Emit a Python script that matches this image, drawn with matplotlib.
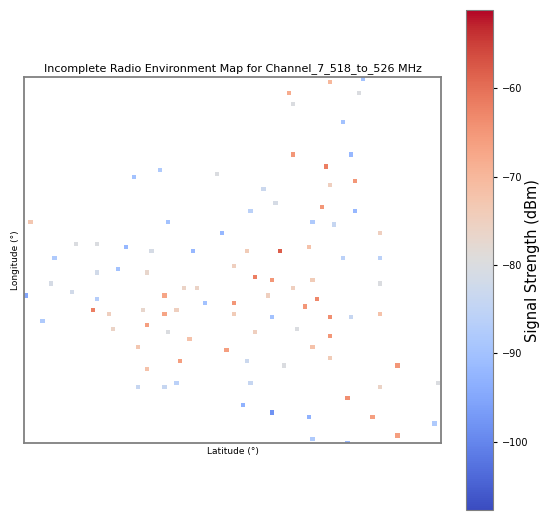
import matplotlib
matplotlib.use("Agg")
import matplotlib.pyplot as plt
import numpy as np

# Grid position along latitude (x) and longitude (y), 0..80 cells, and measured signal (dBm)
lat = [1.2, 21.1, 26.1, 37.0, 27.6, 38.0, 10.0, 14.0, 19.6, 24.4, 32.4, 5.9,
       58.7, 65.0, 50.8, 64.3, 51.6, 61.2, 51.6, 62.7, 57.9, 63.5, 58.7, 45.9,
       48.3, 57.2, 43.5, 63.5, 55.4, 59.5, 68.3, 42.8, 49.1, 54.7, 61.2, 68.3,
       14.0, 18.0, 23.6, 5.2, 9.2, 0.4, 14.0, 26.9, 30.7, 33.2, 34.7, 13.2,
       16.3, 22.8, 26.9, 29.2, 3.6, 17.1, 23.6, 27.6, 31.7, 38.8, 21.9, 29.9,
       23.6, 21.9, 26.9, 29.2, 40.3, 44.3, 47.6, 51.6, 55.4, 68.3, 46.8, 40.3,
       56.2, 53.9, 40.3, 47.6, 58.7, 62.7, 68.3, 44.3, 52.4, 58.7, 55.4, 58.7,
       42.8, 49.9, 71.6, 43.5, 68.3, 79.4, 62.0, 42.0, 47.6, 54.7, 66.8, 78.7,
       71.6, 55.4, 62.0]
lon = [48.3, 58.1, 59.7, 58.8, 48.3, 45.9, 43.5, 43.5, 42.8, 42.0, 42.0, 40.4,
       78.9, 79.6, 76.5, 76.5, 74.1, 70.2, 63.0, 63.0, 60.5, 57.3, 56.4, 55.5,
       52.5, 51.6, 50.7, 50.7, 48.3, 47.7, 45.9, 42.0, 42.0, 42.8, 40.4, 40.4,
       37.2, 38.0, 37.2, 34.8, 33.0, 32.3, 31.5, 32.3, 33.9, 33.9, 30.6, 29.1,
       28.2, 29.1, 28.2, 29.1, 26.7, 24.9, 25.8, 24.3, 22.7, 20.3, 21.0, 17.9,
       16.2, 12.2, 12.2, 13.1, 38.7, 36.3, 35.6, 33.9, 35.6, 34.8, 32.3, 30.6,
       31.5, 29.9, 28.2, 27.5, 27.5, 27.5, 28.2, 24.3, 24.9, 23.4, 21.0, 18.6,
       17.9, 17.0, 17.0, 13.1, 12.2, 13.1, 9.8, 8.3, 6.6, 5.7, 5.7, 4.2,
       1.7, 0.9, 0.0]
signal_dbm = [-73, -90, -88, -80, -90, -92, -80, -80, -92, -81, -92, -88,
              -70, -90, -68, -80, -80, -90, -65, -92, -62, -65, -75, -83,
              -81, -65, -86, -92, -88, -84, -75, -74, -58, -72, -86, -86,
              -82, -90, -77, -81, -82, -95, -87, -67, -76, -76, -90, -62,
              -75, -77, -67, -75, -88, -76, -66, -80, -72, -66, -73, -66,
              -72, -84, -84, -86, -75, -62, -65, -75, -74, -80, -75, -65,
              -63, -65, -74, -90, -64, -84, -72, -75, -80, -65, -72, -74,
              -83, -80, -65, -84, -76, -80, -64, -93, -98, -93, -66, -88,
              -66, -88, -92]
cbar_ticks = [-60, -70, -80, -90, -100]
vmin, vmax = -107.7, -51.2

fig = plt.figure(figsize=(5.41, 5.12), dpi=100)
ax = fig.add_axes([0.0444, 0.1348, 0.7708, 0.7148])
sc = ax.scatter(lat, lon, c=signal_dbm, cmap="coolwarm", vmin=vmin, vmax=vmax,
                marker="s", s=11, linewidths=0)
ax.set_xlim(0, 80)
ax.set_ylim(0, 80)
ax.set_xticks([])
ax.set_yticks([])
for sp in ax.spines.values():
    sp.set_color("#808080")
    sp.set_linewidth(1.3)
ax.set_title("Incomplete Radio Environment Map for Channel_7_518_to_526 MHz",
             fontsize=8, pad=4)
ax.set_xlabel("Latitude (°)", fontsize=6.5, labelpad=3)
ax.set_ylabel("Longitude (°)", fontsize=6.5, labelpad=3)

cax = fig.add_axes([0.861, 0.004, 0.050, 0.976])
cb = fig.colorbar(sc, cax=cax, ticks=cbar_ticks)
cb.ax.tick_params(labelsize=7, length=3)
cb.outline.set_edgecolor("#808080")
cb.set_label("Signal Strength (dBm)", fontsize=10.5)
cb.ax.yaxis.label.set_va("center")
cb.ax.yaxis.set_label_coords(2.45, 0.5)

fig.savefig("out.png", dpi=100)
